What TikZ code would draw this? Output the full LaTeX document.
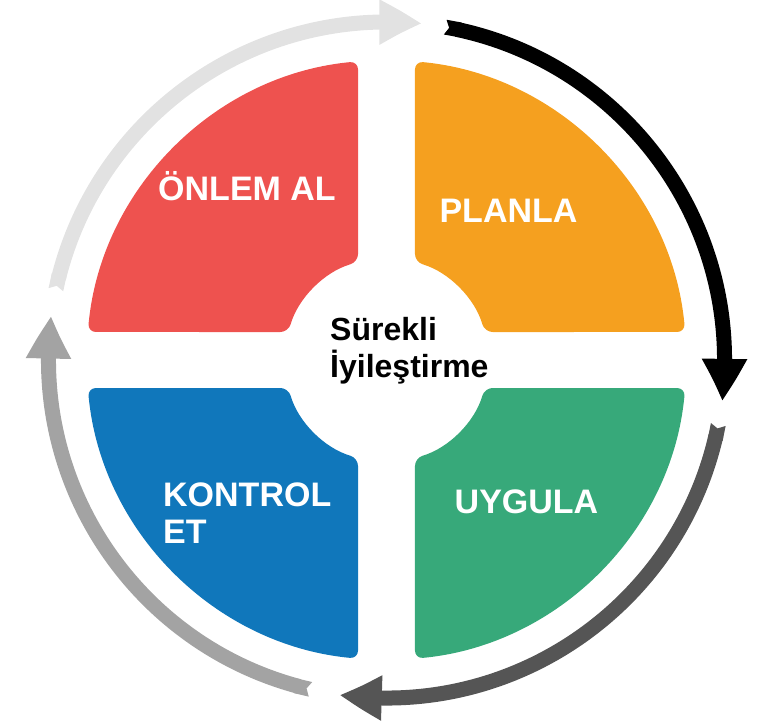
\documentclass[tikz,border=0pt]{standalone}
\usepackage{fontspec}
\setmainfont{Liberation Sans}
\usetikzlibrary{arrows.meta,bending}
\definecolor{qred}{HTML}{EE524F}
\definecolor{qorange}{HTML}{F5A01F}
\definecolor{qblue}{HTML}{1077BB}
\definecolor{qgreen}{HTML}{37A97A}
\definecolor{ringlight}{HTML}{E2E2E2}
\definecolor{ringdark}{HTML}{555555}
\definecolor{ringmid}{HTML}{A3A3A3}
\begin{document}
\begin{tikzpicture}[x=1pt,y=1pt,
  quad/.style={rounded corners=8pt},
  ringarrow/.style={line width=15pt,
    {Triangle Cap[reversed,length=4pt]}-{Triangle[width=42pt,length=43pt,bend]}},
  label/.style={text=white,font=\fontsize{34}{36.5}\selectfont\bfseries,inner sep=0pt},
  centerlabel/.style={text=black,font=\fontsize{32}{37}\selectfont\bfseries,inner sep=0pt,align=left}]
\useasboundingbox (-386.5,-361) rectangle (391.5,360);
% quadrants
\fill[qred,quad] (95.45:300) arc[start angle=95.45,end angle=174.64,radius=300]
  -- (164.07:102) arc[start angle=164.07,end angle=106.22,radius=102] -- cycle;
\fill[qorange,quad] (84.55:300) arc[start angle=84.55,end angle=5.36,radius=300]
  -- (15.93:102) arc[start angle=15.93,end angle=73.78,radius=102] -- cycle;
\fill[qgreen,quad] (-5.36:300) arc[start angle=-5.36,end angle=-84.55,radius=300]
  -- (-73.78:102) arc[start angle=-73.78,end angle=-15.93,radius=102] -- cycle;
\fill[qblue,quad] (185.36:300) arc[start angle=185.36,end angle=264.55,radius=300]
  -- (253.78:102) arc[start angle=253.78,end angle=195.93,radius=102] -- cycle;
% ring arrows
\draw[ringarrow,ringlight] (168:338) arc[start angle=168,end angle=84,radius=338];
\draw[ringarrow,black] (80:338) arc[start angle=80,end angle=-7,radius=338];
\draw[ringarrow,ringdark] (-11:338) arc[start angle=-11,end angle=-98,radius=338];
\draw[ringarrow,ringmid] (-103:338) arc[start angle=-103,end angle=-187.5,radius=338];
% labels
\node[label,anchor=base] (onlem) at (-139.5,160) {ÖNLEM AL};
\node[label,anchor=base] (planla) at (122,138) {PLANLA};
\node[label,anchor=base west,align=left] (kontrol) at (-223.5,-183) {KONTROL\\ET};
\node[label,anchor=base] (uygula) at (140,-153) {UYGULA};
\node[centerlabel,anchor=base west] (surekli) at (-56.5,-17) {Sürekli\\İyileştirme};
\end{tikzpicture}
\end{document}
